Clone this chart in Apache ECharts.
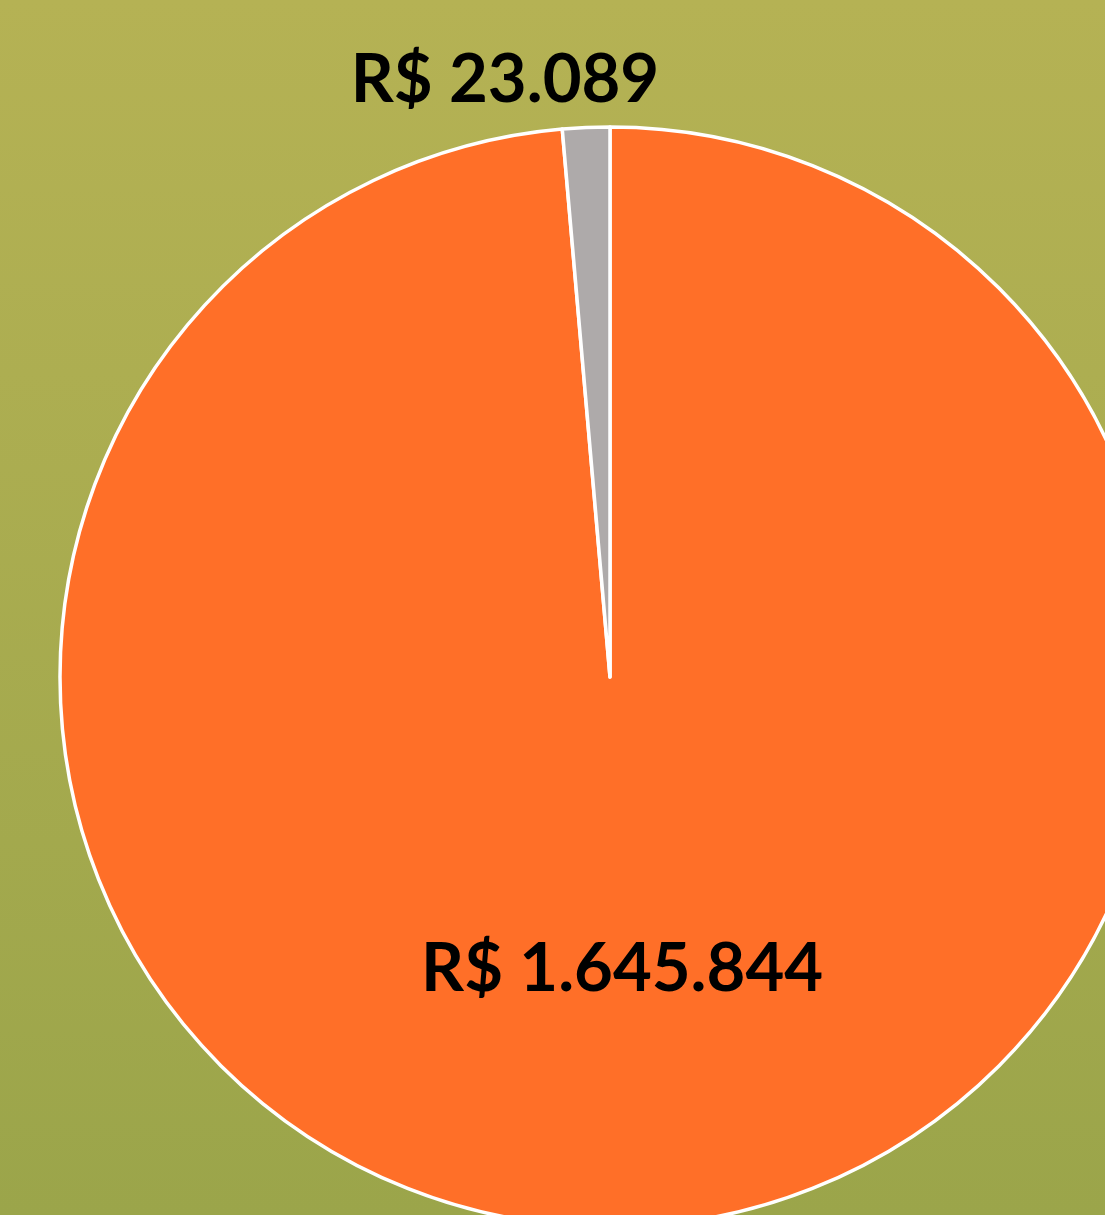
<!DOCTYPE html>
<html>
<head>
    <meta charset="utf-8">
    <title>Pie</title>
    <script src="https://cdn.jsdelivr.net/npm/echarts@6/dist/echarts.min.js"></script>
    <style>
        html, body { margin: 0; padding: 0; }
    </style>
</head>
<body>
    <div id="main" style="width: 1105px;height:1215px;"></div>
    <script type="text/javascript">
        // dados do gráfico
        var categorias = ['Total A', 'Total B'];
        var valores = [1645844, 23089];
        var cores = ['#ff6f28', '#aeaaaa'];

        function formatarReal(v) {
            return 'R$ ' + v.toString().replace(/\B(?=(\d{3})+(?!\d))/g, '.');
        }

        var chart = echarts.init(document.getElementById('main'));

        var option = {
            backgroundColor: {
                type: 'linear', x: 0, y: 0, x2: 0, y2: 1,
                colorStops: [
                    { offset: 0, color: '#b5b254' },
                    { offset: 1, color: '#9ba54a' }
                ]
            },
            animation: false,
            series: [
                {
                    type: 'pie',
                    center: [610, 677],
                    radius: 550,
                    startAngle: 90,
                    clockwise: true,
                    data: categorias.map(function (c, i) {
                        return {
                            name: c,
                            value: valores[i],
                            itemStyle: { color: cores[i] },
                            label: { position: i === 0 ? 'inside' : 'outside' }
                        };
                    }),
                    itemStyle: {
                        borderColor: '#ffffff',
                        borderWidth: 3.5
                    },
                    label: {
                        formatter: function (p) { return formatarReal(p.value); },
                        color: '#000',
                        fontFamily: 'Lato',
                        fontWeight: 'bold',
                        fontSize: 67
                    },
                    labelLine: { show: false },
                    labelLayout: function (p) {
                        // rótulo da fatia pequena fica acima do gráfico
                        if (p.dataIndex === 1) {
                            return { x: 505, y: 80, align: 'center', verticalAlign: 'middle' };
                        }
                        return { dy: 15 };
                    }
                }
            ]
        };

        chart.setOption(option);
    </script>
</body>
</html>
